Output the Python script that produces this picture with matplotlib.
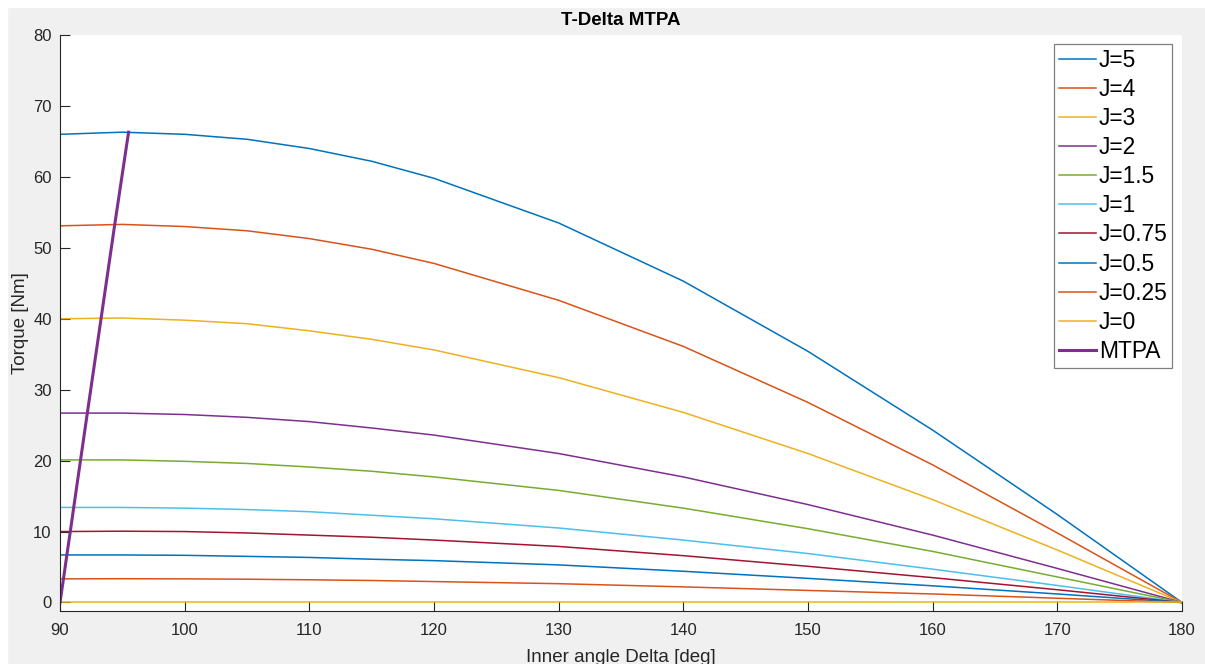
import matplotlib.pyplot as plt
import numpy as np

# Inner angle samples [deg]
delta = [90, 95, 100, 105, 110, 115, 120, 130, 140, 150, 160, 170, 180]

# Torque [Nm] for each current density J
T_J5 = [66.0, 66.3, 66.0, 65.3, 64.0, 62.2, 59.8, 53.5, 45.3, 35.4, 24.3, 12.4, 0.0]
T_J4 = [53.1, 53.3, 53.0, 52.4, 51.3, 49.8, 47.8, 42.6, 36.1, 28.2, 19.4, 9.8, 0.0]
T_J3 = [40.0, 40.1, 39.8, 39.3, 38.3, 37.1, 35.6, 31.7, 26.8, 21.0, 14.5, 7.4, 0.0]
T_J2 = [26.7, 26.7, 26.5, 26.1, 25.5, 24.6, 23.6, 21.0, 17.7, 13.8, 9.5, 4.8, 0.0]
T_J15 = [20.1, 20.1, 19.9, 19.6, 19.1, 18.5, 17.7, 15.8, 13.3, 10.4, 7.2, 3.6, 0.0]
T_J1 = [13.4, 13.4, 13.3, 13.1, 12.8, 12.3, 11.8, 10.5, 8.8, 6.9, 4.7, 2.4, 0.0]
T_J075 = [10.0, 10.05, 10.0, 9.8, 9.5, 9.2, 8.8, 7.9, 6.6, 5.1, 3.5, 1.8, 0.0]
T_J05 = [6.7, 6.7, 6.65, 6.5, 6.35, 6.1, 5.9, 5.3, 4.4, 3.4, 2.35, 1.2, 0.0]
T_J025 = [3.33, 3.35, 3.33, 3.28, 3.2, 3.1, 2.95, 2.65, 2.2, 1.7, 1.2, 0.6, 0.0]
T_J0 = [0.0] * 13

labels = ["J=5", "J=4", "J=3", "J=2", "J=1.5", "J=1", "J=0.75", "J=0.5", "J=0.25", "J=0"]
curves = [T_J5, T_J4, T_J3, T_J2, T_J15, T_J1, T_J075, T_J05, T_J025, T_J0]

# MTPA points (angle of max torque per J)
mtpa_delta = [90.0, 90.28, 90.55, 90.83, 91.1, 91.65, 92.2, 93.3, 94.4, 95.5]
mtpa_torque = [0.0, 3.35, 6.7, 10.05, 13.4, 20.1, 26.8, 40.1, 53.4, 66.3]

# MATLAB default color order
colors = ["#0072BD", "#D95319", "#EDB120", "#7E2F8E", "#77AC30",
          "#4DBEEE", "#A2142F"]

plt.rcParams['font.family'] = ['Liberation Sans', 'DejaVu Sans']

W, H = 1205, 664
fig = plt.figure(figsize=(W / 100, H / 100), dpi=100, facecolor="#f0f0f0")
# thin white margin at top and left, as in the screenshot
fig.patches.append(plt.Rectangle((0, 0), 7 / W, 1, transform=fig.transFigure,
                                 color="white", zorder=-1))
fig.patches.append(plt.Rectangle((0, 1 - 7 / H), 1, 7 / H, transform=fig.transFigure,
                                 color="white", zorder=-1))

ax = fig.add_axes([60 / W, 1 - 611 / H, 1122 / W, 576 / H])

for i, (T, lab) in enumerate(zip(curves, labels)):
    ax.plot(delta, T, color=colors[i % len(colors)], lw=1.1, label=lab)
ax.plot(mtpa_delta, mtpa_torque, color="#7E2F8E", lw=2.2, label="MTPA")

ax.set_xlim(90, 180)
ax.set_ylim(-1.2, 80)
ax.set_xticks(np.arange(90, 181, 10))
ax.set_yticks(np.arange(0, 81, 10))

for s in ["top", "right"]:
    ax.spines[s].set_visible(False)
for s in ["left", "bottom"]:
    ax.spines[s].set_color("#262626")
    ax.spines[s].set_linewidth(0.8)
ax.tick_params(axis="both", direction="in", length=7, width=0.8,
               color="#262626", labelcolor="#262626", labelsize=12)
ax.tick_params(axis="x", pad=8.5)
ax.tick_params(axis="y", pad=6)

ax.set_title("T-Delta MTPA", fontweight="bold", fontsize=13.5, pad=7)
ax.set_xlabel("Inner angle Delta [deg]", fontsize=13.5, color="#262626", labelpad=8)
ax.set_ylabel("Torque [Nm]", fontsize=13.5, color="#262626", labelpad=3)

leg = ax.legend(loc="upper right", bbox_to_anchor=(1 - 10 / 1122, 1 - 9 / 576),
                borderaxespad=0, fontsize=16.4, fancybox=False, framealpha=1,
                edgecolor="#808080", labelspacing=0.27, handlelength=1.62,
                handletextpad=0.13, borderpad=0.2)
leg.get_frame().set_linewidth(0.9)

fig.savefig("out.png", dpi=100, facecolor=fig.get_facecolor())
